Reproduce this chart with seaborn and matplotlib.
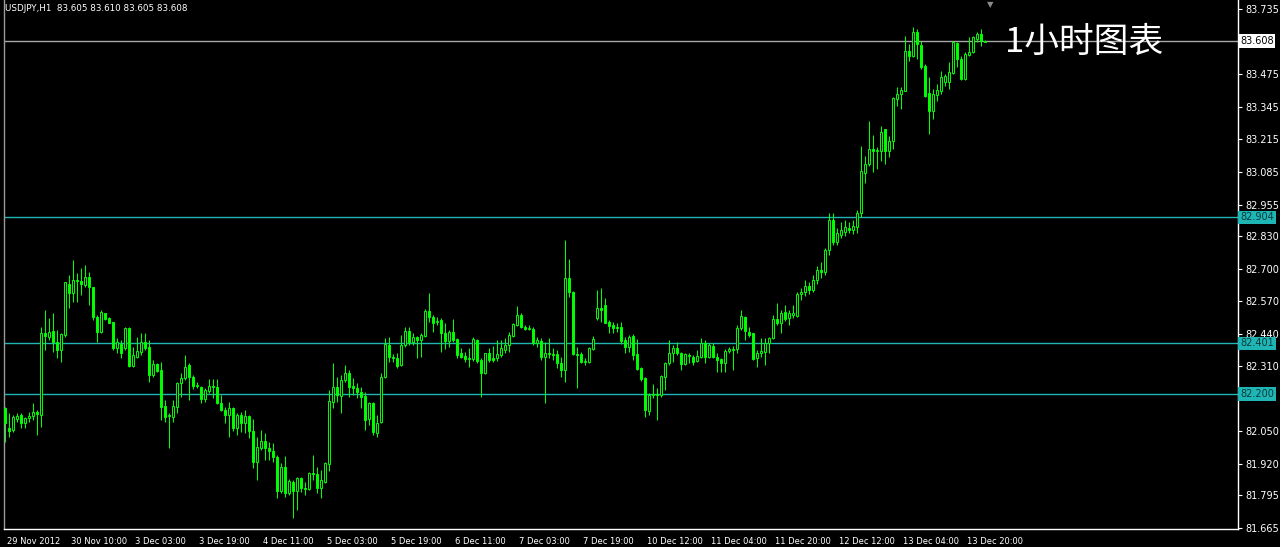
import matplotlib
matplotlib.use('Agg')
import matplotlib.pyplot as plt
import matplotlib.transforms as mtransforms
import numpy as np
import seaborn as sns

# USDJPY H1 candles
opens = [82.143, 82.063, 82.055, 82.099, 82.115, 82.083, 82.103, 82.111, 82.127, 82.115,
         82.443, 82.427, 82.451, 82.407, 82.375, 82.435, 82.639, 82.603, 82.655, 82.651,
         82.635, 82.667, 82.627, 82.507, 82.447, 82.523, 82.503, 82.487, 82.383, 82.399,
         82.383, 82.463, 82.311, 82.347, 82.367, 82.407, 82.387, 82.275, 82.319, 82.295,
         82.151, 82.111, 82.107, 82.147, 82.243, 82.263, 82.315, 82.267, 82.231, 82.227,
         82.179, 82.211, 82.231, 82.227, 82.163, 82.135, 82.115, 82.143, 82.063, 82.115,
         82.083, 82.111, 82.051, 81.927, 81.983, 82.011, 81.983, 81.971, 81.947, 81.811,
         81.907, 81.803, 81.847, 81.811, 81.863, 81.823, 81.819, 81.883, 81.879, 81.823,
         81.847, 81.919, 82.167, 82.227, 82.191, 82.255, 82.283, 82.231, 82.223, 82.207,
         82.191, 82.099, 82.163, 82.043, 82.087, 82.267, 82.395, 82.347, 82.343, 82.315,
         82.395, 82.451, 82.407, 82.427, 82.415, 82.431, 82.531, 82.507, 82.487, 82.495,
         82.443, 82.411, 82.447, 82.419, 82.363, 82.351, 82.343, 82.339, 82.415, 82.335,
         82.283, 82.363, 82.343, 82.343, 82.355, 82.375, 82.395, 82.431, 82.475, 82.515,
         82.467, 82.459, 82.459, 82.403, 82.411, 82.347, 82.363, 82.359, 82.359, 82.323,
         82.295, 82.663, 82.607, 82.359, 82.359, 82.327, 82.327, 82.379, 82.503, 82.543,
         82.555, 82.487, 82.475, 82.467, 82.467, 82.415, 82.387, 82.431, 82.359, 82.303,
         82.263, 82.131, 82.195, 82.199, 82.195, 82.267, 82.323, 82.363, 82.383, 82.363,
         82.319, 82.351, 82.347, 82.331, 82.347, 82.403, 82.347, 82.391, 82.347, 82.339,
         82.323, 82.371, 82.379, 82.379, 82.463, 82.507, 82.447, 82.443, 82.343, 82.363,
         82.367, 82.403, 82.423, 82.499, 82.483, 82.527, 82.503, 82.515, 82.511, 82.599,
         82.607, 82.631, 82.615, 82.655, 82.695, 82.687, 82.775, 82.895, 82.807, 82.835,
         82.847, 82.863, 82.855, 82.867, 82.923, 83.079, 83.115, 83.175, 83.167, 83.167,
         83.255, 83.167, 83.207, 83.375, 83.395, 83.407, 83.567, 83.547, 83.643, 83.591,
         83.507, 83.399, 83.327, 83.391, 83.407, 83.443, 83.443, 83.479, 83.599, 83.535,
         83.455, 83.551, 83.563, 83.615, 83.635, 83.605]
highs = [82.147, 82.123, 82.115, 82.123, 82.123, 82.107, 82.127, 82.163, 82.135, 82.467,
         82.535, 82.503, 82.523, 82.455, 82.443, 82.647, 82.675, 82.735, 82.683, 82.703,
         82.715, 82.687, 82.627, 82.515, 82.535, 82.523, 82.507, 82.487, 82.423, 82.415,
         82.467, 82.467, 82.387, 82.427, 82.443, 82.443, 82.415, 82.335, 82.323, 82.327,
         82.175, 82.123, 82.175, 82.247, 82.283, 82.355, 82.323, 82.275, 82.247, 82.231,
         82.223, 82.259, 82.259, 82.259, 82.195, 82.147, 82.167, 82.147, 82.123, 82.127,
         82.135, 82.115, 82.099, 82.027, 82.055, 82.043, 82.007, 82.003, 81.955, 81.923,
         81.951, 81.859, 81.855, 81.867, 81.867, 81.847, 81.887, 81.955, 81.907, 81.895,
         81.927, 82.215, 82.323, 82.267, 82.275, 82.315, 82.295, 82.263, 82.243, 82.227,
         82.207, 82.167, 82.167, 82.115, 82.283, 82.423, 82.427, 82.359, 82.363, 82.435,
         82.467, 82.467, 82.443, 82.431, 82.443, 82.539, 82.603, 82.515, 82.507, 82.503,
         82.483, 82.455, 82.499, 82.423, 82.383, 82.367, 82.383, 82.427, 82.419, 82.343,
         82.363, 82.383, 82.391, 82.415, 82.415, 82.423, 82.447, 82.483, 82.551, 82.523,
         82.475, 82.475, 82.467, 82.427, 82.423, 82.407, 82.423, 82.383, 82.375, 82.347,
         82.815, 82.739, 82.611, 82.387, 82.367, 82.343, 82.387, 82.431, 82.615, 82.623,
         82.583, 82.495, 82.487, 82.483, 82.487, 82.427, 82.435, 82.439, 82.419, 82.307,
         82.267, 82.203, 82.239, 82.223, 82.275, 82.327, 82.415, 82.395, 82.407, 82.367,
         82.363, 82.363, 82.355, 82.375, 82.423, 82.415, 82.403, 82.403, 82.363, 82.343,
         82.379, 82.387, 82.391, 82.475, 82.535, 82.511, 82.467, 82.443, 82.375, 82.423,
         82.423, 82.427, 82.515, 82.563, 82.535, 82.555, 82.535, 82.555, 82.607, 82.623,
         82.655, 82.647, 82.675, 82.711, 82.727, 82.783, 82.923, 82.923, 82.863, 82.887,
         82.895, 82.887, 82.895, 82.935, 83.187, 83.147, 83.287, 83.231, 83.183, 83.267,
         83.255, 83.227, 83.383, 83.423, 83.423, 83.627, 83.595, 83.663, 83.655, 83.607,
         83.515, 83.463, 83.415, 83.435, 83.487, 83.475, 83.523, 83.607, 83.603, 83.547,
         83.563, 83.623, 83.627, 83.643, 83.655, 83.610]
lows = [82.007, 82.027, 82.047, 82.087, 82.063, 82.063, 82.087, 82.095, 82.035, 82.067,
        82.375, 82.415, 82.367, 82.343, 82.327, 82.427, 82.543, 82.567, 82.567, 82.595,
        82.627, 82.555, 82.495, 82.407, 82.443, 82.495, 82.483, 82.375, 82.363, 82.343,
        82.375, 82.307, 82.307, 82.343, 82.355, 82.375, 82.247, 82.267, 82.287, 82.095,
        82.087, 81.983, 82.087, 82.123, 82.187, 82.255, 82.175, 82.219, 82.223, 82.163,
        82.167, 82.203, 82.183, 82.159, 82.131, 82.083, 82.027, 82.051, 82.035, 82.047,
        82.043, 82.023, 81.903, 81.855, 81.975, 81.935, 81.935, 81.927, 81.783, 81.803,
        81.787, 81.795, 81.703, 81.735, 81.807, 81.795, 81.815, 81.855, 81.803, 81.783,
        81.843, 81.891, 82.143, 82.167, 82.123, 82.247, 82.187, 82.195, 82.183, 82.143,
        82.055, 82.075, 82.035, 82.027, 82.083, 82.263, 82.327, 82.327, 82.303, 82.311,
        82.387, 82.395, 82.395, 82.343, 82.347, 82.427, 82.487, 82.447, 82.475, 82.367,
        82.379, 82.387, 82.407, 82.343, 82.343, 82.327, 82.307, 82.331, 82.323, 82.187,
        82.279, 82.327, 82.327, 82.331, 82.347, 82.363, 82.367, 82.427, 82.471, 82.463,
        82.455, 82.455, 82.395, 82.387, 82.335, 82.163, 82.343, 82.335, 82.303, 82.267,
        82.247, 82.587, 82.355, 82.223, 82.323, 82.315, 82.323, 82.375, 82.495, 82.487,
        82.483, 82.443, 82.443, 82.447, 82.399, 82.363, 82.367, 82.335, 82.295, 82.251,
        82.107, 82.115, 82.183, 82.095, 82.187, 82.215, 82.315, 82.327, 82.355, 82.295,
        82.315, 82.323, 82.315, 82.327, 82.343, 82.323, 82.343, 82.343, 82.287, 82.287,
        82.287, 82.363, 82.295, 82.363, 82.455, 82.415, 82.427, 82.335, 82.307, 82.347,
        82.315, 82.363, 82.419, 82.475, 82.443, 82.491, 82.475, 82.503, 82.507, 82.575,
        82.591, 82.599, 82.607, 82.639, 82.663, 82.675, 82.755, 82.795, 82.795, 82.823,
        82.831, 82.843, 82.839, 82.843, 82.907, 83.043, 83.107, 83.083, 83.095, 83.127,
        83.115, 83.143, 83.175, 83.347, 83.335, 83.407, 83.527, 83.543, 83.535, 83.495,
        83.383, 83.235, 83.295, 83.367, 83.395, 83.427, 83.415, 83.475, 83.503, 83.451,
        83.451, 83.547, 83.559, 83.603, 83.587, 83.605]
closes = [82.083, 82.051, 82.107, 82.111, 82.083, 82.103, 82.111, 82.127, 82.119, 82.443,
          82.431, 82.447, 82.407, 82.375, 82.439, 82.647, 82.603, 82.655, 82.651, 82.639,
          82.667, 82.627, 82.507, 82.447, 82.527, 82.499, 82.483, 82.383, 82.407, 82.363,
          82.463, 82.311, 82.355, 82.371, 82.407, 82.383, 82.275, 82.319, 82.291, 82.147,
          82.107, 82.115, 82.151, 82.243, 82.263, 82.307, 82.267, 82.231, 82.235, 82.179,
          82.215, 82.231, 82.227, 82.163, 82.135, 82.115, 82.143, 82.063, 82.115, 82.083,
          82.111, 82.051, 81.927, 81.987, 82.011, 81.983, 81.971, 81.947, 81.811, 81.907,
          81.803, 81.851, 81.811, 81.863, 81.823, 81.819, 81.883, 81.879, 81.823, 81.855,
          81.923, 82.171, 82.227, 82.195, 82.255, 82.283, 82.227, 82.223, 82.207, 82.187,
          82.095, 82.163, 82.047, 82.083, 82.267, 82.399, 82.347, 82.343, 82.311, 82.395,
          82.451, 82.407, 82.427, 82.415, 82.435, 82.531, 82.507, 82.483, 82.491, 82.443,
          82.411, 82.447, 82.415, 82.355, 82.347, 82.339, 82.339, 82.419, 82.331, 82.283,
          82.363, 82.335, 82.335, 82.359, 82.383, 82.395, 82.435, 82.479, 82.515, 82.467,
          82.459, 82.463, 82.403, 82.415, 82.347, 82.363, 82.359, 82.355, 82.323, 82.295,
          82.663, 82.607, 82.359, 82.355, 82.327, 82.331, 82.383, 82.419, 82.543, 82.535,
          82.483, 82.471, 82.463, 82.463, 82.411, 82.387, 82.427, 82.355, 82.299, 82.259,
          82.135, 82.195, 82.199, 82.195, 82.271, 82.323, 82.363, 82.383, 82.363, 82.319,
          82.359, 82.355, 82.327, 82.351, 82.403, 82.347, 82.395, 82.347, 82.335, 82.323,
          82.371, 82.379, 82.375, 82.463, 82.511, 82.451, 82.435, 82.339, 82.363, 82.371,
          82.403, 82.423, 82.499, 82.483, 82.523, 82.499, 82.523, 82.523, 82.599, 82.607,
          82.631, 82.615, 82.655, 82.695, 82.687, 82.775, 82.895, 82.807, 82.843, 82.855,
          82.867, 82.855, 82.871, 82.923, 83.087, 83.115, 83.175, 83.167, 83.171, 83.243,
          83.167, 83.207, 83.379, 83.395, 83.411, 83.567, 83.547, 83.643, 83.595, 83.503,
          83.387, 83.327, 83.395, 83.411, 83.463, 83.467, 83.483, 83.603, 83.535, 83.455,
          83.555, 83.563, 83.623, 83.635, 83.607, 83.608]

time_labels = ['29 Nov 2012', '30 Nov 10:00', '3 Dec 03:00', '3 Dec 19:00', '4 Dec 11:00',
               '5 Dec 03:00', '5 Dec 19:00', '6 Dec 11:00', '7 Dec 03:00', '7 Dec 19:00',
               '10 Dec 12:00', '11 Dec 04:00', '11 Dec 20:00', '12 Dec 12:00', '13 Dec 04:00',
               '13 Dec 20:00']
bars_per_label = 16

price_ticks = [83.735, 83.605, 83.475, 83.345, 83.215, 83.085, 82.955, 82.830, 82.700,
               82.570, 82.440, 82.310, 82.180, 82.050, 81.920, 81.795, 81.665]
# these two scale labels sit under the price tags in the terminal
covered_ticks = [83.605, 82.180]
level_lines = [82.904, 82.401, 82.200]
bid_price = 83.608

symbol_text = 'USDJPY,H1  83.605 83.610 83.605 83.608'
note_text = '1小时图表'

# -------------------------------------------------------------------------
# Style
# -------------------------------------------------------------------------
sns.set_theme(style='dark', rc={
    'axes.facecolor': 'black',
    'figure.facecolor': 'black',
    'axes.edgecolor': 'white',
    'text.color': 'white',
    'xtick.color': 'white',
    'ytick.color': 'white',
})
plt.rcParams['font.family'] = ['DejaVu Sans', 'Noto Sans CJK SC']

CANDLE = '#00ff00'
LEVEL = '#1fb5b5'
BID = '#a8a8a8'

fig = plt.figure(figsize=(12.8, 5.47), dpi=100)
ax = fig.add_axes([4 / 1280, 18 / 547, 1234 / 1280, 529 / 547])

o = np.array(opens)
h = np.array(highs)
l = np.array(lows)
c = np.array(closes)
x = np.arange(len(c))
bull = c >= o

# wicks first, bodies on top (bull bodies are hollow = black fill)
ax.vlines(x, l, h, color=CANDLE, linewidth=0.75, zorder=2)
ax.bar(x, np.abs(c - o), bottom=np.minimum(o, c), width=0.45,
       color=np.where(bull, 'black', CANDLE), edgecolor=CANDLE,
       linewidth=0.7, zorder=3)

# horizontal levels and bid line
for lvl in level_lines:
    ax.axhline(lvl, color=LEVEL, linewidth=1.0, zorder=1)
ax.axhline(bid_price, color=BID, linewidth=1.0, zorder=1)

ax.set_xlim(-0.25, 308.25)
ax.set_ylim(81.661, 83.771)

# spines
ax.spines['top'].set_visible(False)
ax.spines['left'].set_color('#9a9a9a')
ax.spines['right'].set_color('white')
ax.spines['bottom'].set_color('white')
for s in ax.spines.values():
    s.set_linewidth(1.0)

# x axis: time labels every 16 bars, left-aligned after the tick
ax.set_xticks(np.arange(len(time_labels)) * bars_per_label)
ax.set_xticklabels(time_labels)
ax.tick_params(axis='x', direction='out', length=4, width=0.8, color='white',
               labelcolor='white', labelsize=6, pad=1.5)
shift = mtransforms.ScaledTranslation(2 / 100, 0, fig.dpi_scale_trans)
for lbl in ax.get_xticklabels():
    lbl.set_horizontalalignment('left')
    lbl.set_transform(lbl.get_transform() + shift)

# y axis on the right
ax.yaxis.tick_right()
ax.set_yticks(price_ticks)
ax.set_yticklabels(['' if p in covered_ticks else f'{p:.3f}' for p in price_ticks])
ax.tick_params(axis='y', direction='out', length=3, width=0.8, color='white',
               labelcolor='white', labelsize=7, pad=2)
ax.grid(False)

# price tags on the right axis
tag_tr = mtransforms.blended_transform_factory(ax.transAxes, ax.transData)
ax.text(1.0 + 2 / 1234, bid_price, f'{bid_price:.3f}', transform=tag_tr,
        ha='left', va='center', fontsize=7, color='black', clip_on=False, zorder=10,
        bbox=dict(boxstyle='square,pad=0.18', fc='white', ec='none'))
for lvl in level_lines:
    ax.text(1.0 + 2 / 1234, lvl, f'{lvl:.3f}', transform=tag_tr,
            ha='left', va='center', fontsize=7, color='#0a3a3a', clip_on=False,
            zorder=10, bbox=dict(boxstyle='square,pad=0.18', fc=LEVEL, ec='none'))

# header and chart note
ax.text(0.001, 0.993, symbol_text, transform=ax.transAxes, ha='left', va='top',
        fontsize=6.3, color='white')
ax.text(250, 83.603, note_text, ha='left', va='center', fontsize=25,
        color='white', family=['Noto Sans CJK SC', 'DejaVu Sans'], fontweight='light')
ax.text(0.7995, 1.0, '\u25bc', transform=ax.transAxes, ha='center', va='top',
        fontsize=6, color='#8a8a8a')

fig.savefig('out.png', dpi=100, facecolor='black')
